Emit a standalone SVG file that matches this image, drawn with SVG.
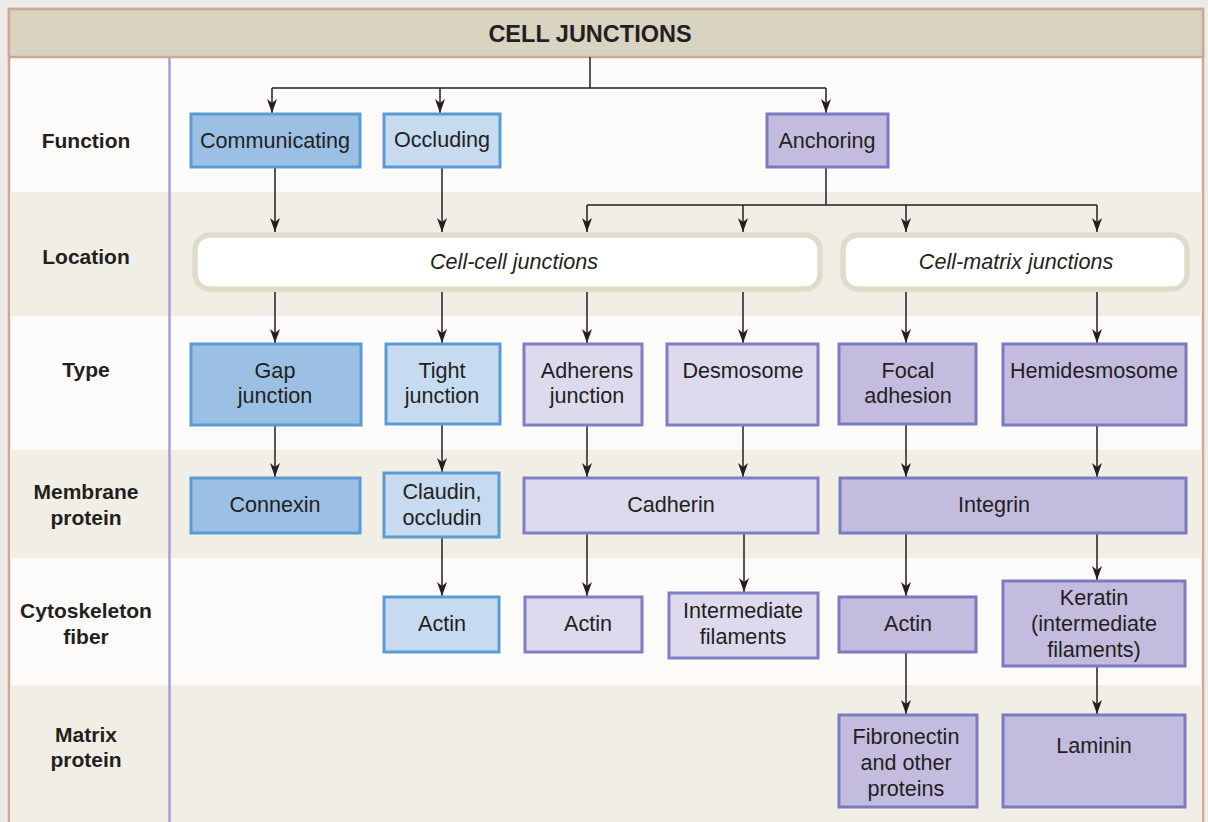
<svg xmlns="http://www.w3.org/2000/svg" width="1208" height="822" viewBox="0 0 1208 822">
  <style>
    .lbl { font-family: "Liberation Sans", Arial, sans-serif; font-weight: bold; font-size: 21px; fill: #231f20; text-anchor: middle; }
    .txt { font-family: "Liberation Sans", Arial, sans-serif; font-size: 21.6px; fill: #231f20; text-anchor: middle; }
    .it { font-style: italic; }
    .blue-d { fill: #9bc0e4; stroke: #5b9bd5; stroke-width: 3; }
    .blue-l { fill: #c6daf0; stroke: #5b9bd5; stroke-width: 3; }
    .purp-l { fill: #dddaed; stroke: #7f7fc6; stroke-width: 3; }
    .purp-m { fill: #c4bcdf; stroke: #7b7bc2; stroke-width: 3; }
    .loc { fill: #ffffff; stroke: #dfddca; stroke-width: 5.5; }
    .wire { fill: none; stroke: #231f20; stroke-width: 1.5; }
    .arr { marker-end: url(#head); }
  </style>
  <defs>
    <marker id="head" viewBox="0 0 14 10" refX="14" refY="5" markerWidth="14" markerHeight="10" markerUnits="userSpaceOnUse" orient="auto">
      <path d="M0,0 L14,5 L0,10 L4,5 z" fill="#231f20"/>
    </marker>
  </defs>

  <!-- page background and frame -->
  <rect x="0" y="0" width="1208" height="822" fill="#ecebe7"/>
  <rect x="9" y="9" width="1194" height="830" fill="#fcfbf9" stroke="#d4a594" stroke-width="2.5"/>

  <!-- row bands -->
  <rect x="10" y="192" width="1192" height="124" fill="#f1efe5"/>
  <rect x="10" y="450" width="1192" height="108" fill="#f1efe5"/>
  <rect x="10" y="685" width="1192" height="140" fill="#f1efe5"/>

  <!-- title band -->
  <rect x="9" y="9" width="1194" height="48" fill="#d9d3c1" stroke="#d4a594" stroke-width="2.5"/>
  <text x="590" y="42" class="lbl" style="font-size:23.5px">CELL JUNCTIONS</text>

  <!-- label column divider -->
  <line x1="169.5" y1="58" x2="169.5" y2="822" stroke="#a7a1d8" stroke-width="2.5"/>

  <!-- row labels -->
  <g id="row-labels">
    <text x="86" y="148" class="lbl">Function</text>
    <text x="86" y="264" class="lbl">Location</text>
    <text x="86" y="377" class="lbl">Type</text>
    <text x="86" y="499" class="lbl">Membrane</text>
    <text x="86" y="525" class="lbl">protein</text>
    <text x="86" y="618" class="lbl">Cytoskeleton</text>
    <text x="86" y="644" class="lbl">fiber</text>
    <text x="86" y="742" class="lbl">Matrix</text>
    <text x="86" y="767" class="lbl">protein</text>
  </g>

  <!-- connectors -->
  <g id="connectors">
    <!-- title to functions -->
    <path class="wire" d="M590,57 V88"/>
    <path class="wire" d="M272,88 H826"/>
    <path class="wire arr" d="M272,88 V113"/>
    <path class="wire arr" d="M440,88 V113"/>
    <path class="wire arr" d="M826,88 V113"/>
    <!-- functions to locations -->
    <path class="wire arr" d="M275,167 V232"/>
    <path class="wire arr" d="M442,167 V232"/>
    <path class="wire" d="M826,167 V205"/>
    <path class="wire" d="M587,205 H1097"/>
    <path class="wire arr" d="M587,205 V232"/>
    <path class="wire arr" d="M743,205 V232"/>
    <path class="wire arr" d="M906,205 V232"/>
    <path class="wire arr" d="M1097,205 V232"/>
    <!-- locations to types -->
    <path class="wire arr" d="M275,292 V343"/>
    <path class="wire arr" d="M442,292 V343"/>
    <path class="wire arr" d="M587,292 V343"/>
    <path class="wire arr" d="M743,292 V343"/>
    <path class="wire arr" d="M906,292 V343"/>
    <path class="wire arr" d="M1097,292 V343"/>
    <!-- types to membrane proteins -->
    <path class="wire arr" d="M275,425 V477"/>
    <path class="wire arr" d="M442,424 V472"/>
    <path class="wire arr" d="M587,425 V477"/>
    <path class="wire arr" d="M743,425 V477"/>
    <path class="wire arr" d="M906,424 V477"/>
    <path class="wire arr" d="M1097,425 V477"/>
    <!-- membrane proteins to cytoskeleton -->
    <path class="wire arr" d="M442,537 V596"/>
    <path class="wire arr" d="M587,533 V596"/>
    <path class="wire arr" d="M744,533 V592"/>
    <path class="wire arr" d="M906,533 V596"/>
    <path class="wire arr" d="M1097,533 V580"/>
    <!-- cytoskeleton to matrix -->
    <path class="wire arr" d="M906,653 V714"/>
    <path class="wire arr" d="M1097,667 V714"/>
  </g>

  <!-- function row -->
  <g id="communicating">
    <rect class="blue-d" x="191" y="114" width="169" height="53"/>
    <text class="txt" x="275" y="148">Communicating</text>
  </g>
  <g id="occluding">
    <rect class="blue-l" x="384" y="114" width="116" height="53"/>
    <text class="txt" x="442" y="147">Occluding</text>
  </g>
  <g id="anchoring">
    <rect class="purp-m" x="767" y="114" width="121" height="53"/>
    <text class="txt" x="827" y="148">Anchoring</text>
  </g>

  <!-- location row -->
  <g id="cell-cell">
    <rect class="loc" x="195" y="235" width="625" height="54" rx="15"/>
    <text class="txt it" x="514" y="269">Cell-cell junctions</text>
  </g>
  <g id="cell-matrix">
    <rect class="loc" x="843" y="235" width="344" height="54" rx="15"/>
    <text class="txt it" x="1016" y="269">Cell-matrix junctions</text>
  </g>

  <!-- type row -->
  <g id="gap-junction">
    <rect class="blue-d" x="191" y="344" width="170" height="81"/>
    <text class="txt" x="275" y="378">Gap</text>
    <text class="txt" x="275" y="403">junction</text>
  </g>
  <g id="tight-junction">
    <rect class="blue-l" x="386" y="344" width="114" height="80"/>
    <text class="txt" x="442" y="378">Tight</text>
    <text class="txt" x="442" y="403">junction</text>
  </g>
  <g id="adherens-junction">
    <rect class="purp-l" x="524" y="344" width="118" height="81"/>
    <text class="txt" x="587" y="378">Adherens</text>
    <text class="txt" x="587" y="403">junction</text>
  </g>
  <g id="desmosome">
    <rect class="purp-l" x="667" y="344" width="151" height="81"/>
    <text class="txt" x="743" y="378">Desmosome</text>
  </g>
  <g id="focal-adhesion">
    <rect class="purp-m" x="839" y="344" width="137" height="80"/>
    <text class="txt" x="908" y="378">Focal</text>
    <text class="txt" x="908" y="403">adhesion</text>
  </g>
  <g id="hemidesmosome">
    <rect class="purp-m" x="1003" y="344" width="183" height="81"/>
    <text class="txt" x="1094" y="378">Hemidesmosome</text>
  </g>

  <!-- membrane protein row -->
  <g id="connexin">
    <rect class="blue-d" x="191" y="478" width="169" height="55"/>
    <text class="txt" x="275" y="512">Connexin</text>
  </g>
  <g id="claudin-occludin">
    <rect class="blue-l" x="384" y="473" width="115" height="64"/>
    <text class="txt" x="442" y="499">Claudin,</text>
    <text class="txt" x="442" y="525">occludin</text>
  </g>
  <g id="cadherin">
    <rect class="purp-l" x="524" y="478" width="294" height="55"/>
    <text class="txt" x="671" y="512">Cadherin</text>
  </g>
  <g id="integrin">
    <rect class="purp-m" x="840" y="478" width="346" height="55"/>
    <text class="txt" x="994" y="512">Integrin</text>
  </g>

  <!-- cytoskeleton row -->
  <g id="actin-tight">
    <rect class="blue-l" x="384" y="597" width="115" height="55"/>
    <text class="txt" x="442" y="631">Actin</text>
  </g>
  <g id="actin-adherens">
    <rect class="purp-l" x="525" y="597" width="117" height="55"/>
    <text class="txt" x="588" y="631">Actin</text>
  </g>
  <g id="intermediate-filaments">
    <rect class="purp-l" x="669" y="593" width="149" height="65"/>
    <text class="txt" x="743" y="618">Intermediate</text>
    <text class="txt" x="743" y="644">filaments</text>
  </g>
  <g id="actin-focal">
    <rect class="purp-m" x="839" y="597" width="137" height="55"/>
    <text class="txt" x="908" y="631">Actin</text>
  </g>
  <g id="keratin">
    <rect class="purp-m" x="1003" y="581" width="182" height="85"/>
    <text class="txt" x="1094" y="605">Keratin</text>
    <text class="txt" x="1094" y="631">(intermediate</text>
    <text class="txt" x="1094" y="657">filaments)</text>
  </g>

  <!-- matrix protein row -->
  <g id="fibronectin">
    <rect class="purp-m" x="839" y="715" width="138" height="92"/>
    <text class="txt" x="906" y="744">Fibronectin</text>
    <text class="txt" x="906" y="770">and other</text>
    <text class="txt" x="906" y="796">proteins</text>
  </g>
  <g id="laminin">
    <rect class="purp-m" x="1003" y="715" width="182" height="92"/>
    <text class="txt" x="1094" y="753">Laminin</text>
  </g>
</svg>
